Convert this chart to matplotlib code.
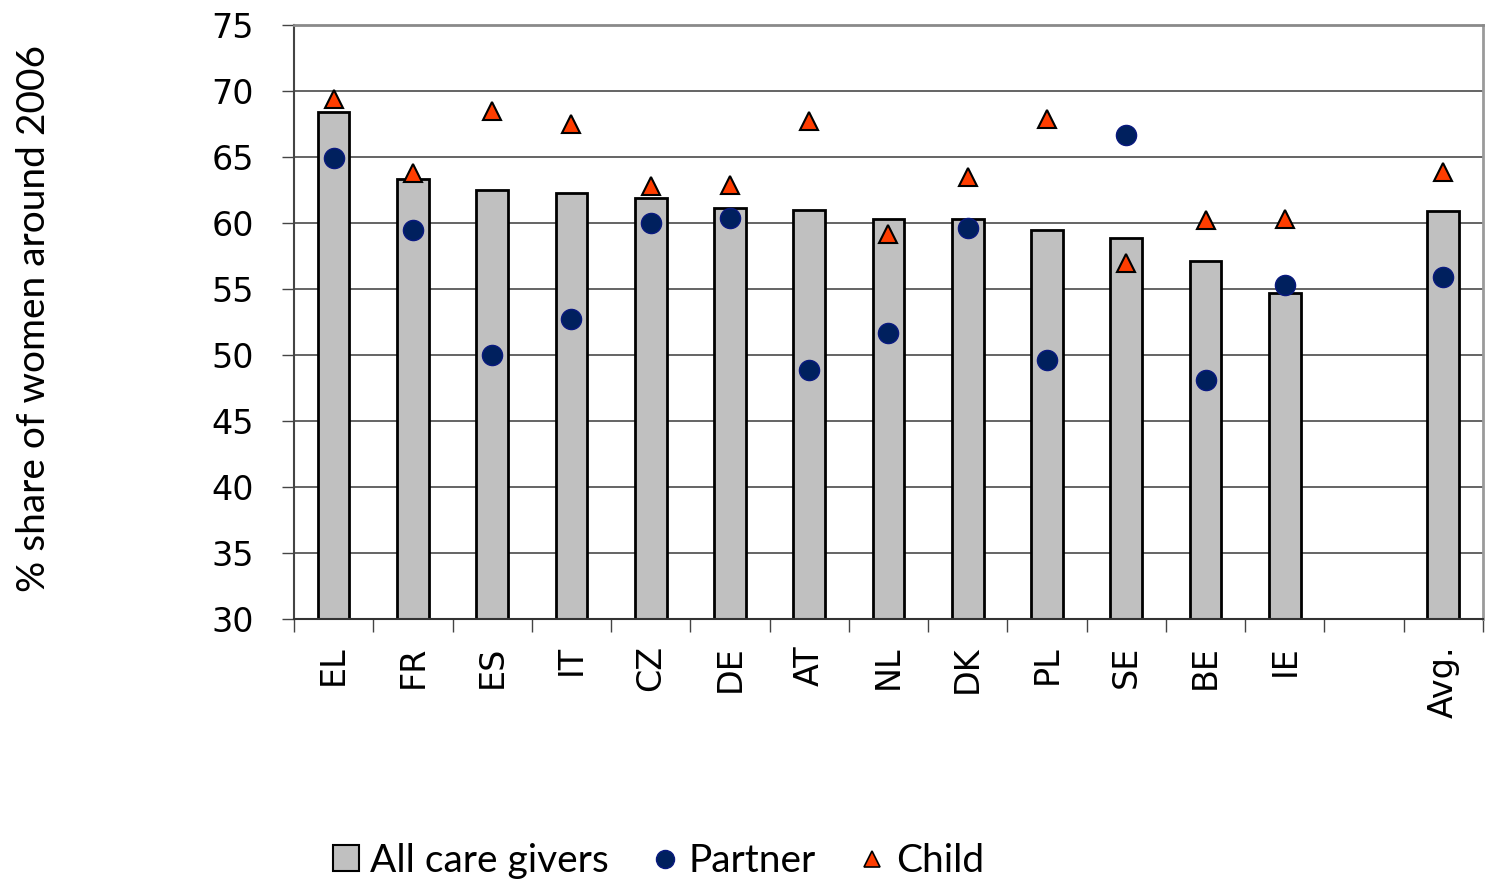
import matplotlib
matplotlib.use("Agg")
import matplotlib.pyplot as plt
from matplotlib.lines import Line2D
from matplotlib.patches import Patch
import numpy as np

# Share of women among care givers, by country, around 2006
countries = ["EL", "FR", "ES", "IT", "CZ", "DE", "AT", "NL", "DK", "PL", "SE", "BE", "IE", "", "Avg."]
all_care_givers = [68.4, 63.3, 62.5, 62.3, 61.9, 61.1, 61.0, 60.3, 60.3, 59.5, 58.9, 57.1, 54.7, None, 60.9]
partner = [64.9, 59.5, 50.0, 52.7, 60.0, 60.4, 48.9, 51.7, 59.6, 49.6, 66.7, 48.1, 55.3, None, 55.9]
child = [69.4, 63.8, 68.5, 67.5, 62.8, 62.9, 67.7, 59.2, 63.5, 67.9, 57.0, 60.2, 60.3, None, 63.9]
y_ticks = [30, 35, 40, 45, 50, 55, 60, 65, 70, 75]

BAR_GREY = "#C0C0C0"
NAVY = "#00205E"
RED = "#FF3D00"
TICK_FONT = ["DejaVu Sans"]
TEXT_FONT = "Lato"

fig = plt.figure(figsize=(14.87, 8.84), dpi=100)
ax = fig.add_axes([0.1977, 0.2998, 0.7996, 0.6719])

x = np.arange(len(countries))
bx = [xi for xi, v in zip(x, all_care_givers) if v is not None]
bv = [v for v in all_care_givers if v is not None]
px = [xi for xi, v in zip(x, partner) if v is not None]
pv = [v for v in partner if v is not None]
cx = [xi for xi, v in zip(x, child) if v is not None]
cv = [v for v in child if v is not None]

ymin = 30
ax.bar(bx, np.array(bv) - ymin, bottom=ymin, width=0.4, color=BAR_GREY,
       edgecolor="black", linewidth=2.0, zorder=2)
ax.plot(px, pv, linestyle="none", marker="o", markersize=14.5,
        markerfacecolor=NAVY, markeredgecolor="#0A1A80", markeredgewidth=1.0, zorder=3)
ax.plot(cx, cv, linestyle="none", marker="^", markersize=13.5,
        markerfacecolor=RED, markeredgecolor="black", markeredgewidth=1.5, zorder=3)

ax.set_xlim(-0.5, len(countries) - 0.5)
ax.set_ylim(30, 75)
ax.set_yticks(y_ticks)
ax.set_yticklabels([str(t) for t in y_ticks], family=TICK_FONT, fontsize=24)
for t in y_ticks[1:-1]:
    ax.axhline(t, color="#3a3a3a", linewidth=1.1, zorder=1)

# spines
ax.spines["left"].set_color("#444444")
ax.spines["left"].set_linewidth(1.5)
ax.spines["bottom"].set_color("#333333")
ax.spines["bottom"].set_linewidth(1.5)
ax.spines["top"].set_color("#8a8a8a")
ax.spines["top"].set_linewidth(2.0)
ax.spines["right"].set_color("#9a9a9a")
ax.spines["right"].set_linewidth(2.0)

# y ticks
ax.tick_params(axis="y", direction="out", length=9, width=1.0, color="#444444",
               pad=20, labelcolor="black")

# x: labels at centres, tick marks at slot boundaries
ax.set_xticks(x)
ax.set_xticklabels(countries, rotation=90, family=TICK_FONT, fontsize=24)
ax.tick_params(axis="x", which="major", length=0, pad=19)
ax.set_xticks(np.arange(-0.5, len(countries) + 0.5, 1.0), minor=True)
ax.tick_params(axis="x", which="minor", direction="out", length=9.5, width=1.0, color="#444444")

fig.text(0.023, 0.640, "% share of women around 2006", rotation=90,
         ha="center", va="center", fontsize=28, family=TEXT_FONT)

handles = [
    Patch(facecolor=BAR_GREY, edgecolor="black", linewidth=1.5),
    Line2D([], [], linestyle="none", marker="o", markersize=13,
           markerfacecolor=NAVY, markeredgecolor="#0A1A80"),
    Line2D([], [], linestyle="none", marker="^", markersize=12,
           markerfacecolor=RED, markeredgecolor="black", markeredgewidth=1.2),
]
fig.legend(handles, ["All care givers", "Partner", "Child"], loc="center",
           bbox_to_anchor=(0.443, 0.026), ncol=3, frameon=False,
           prop={"family": TEXT_FONT, "size": 28}, handlelength=0.65, handleheight=0.65,
           handletextpad=0.3, columnspacing=1.1)

fig.savefig("out.png", dpi=100, facecolor="white")
